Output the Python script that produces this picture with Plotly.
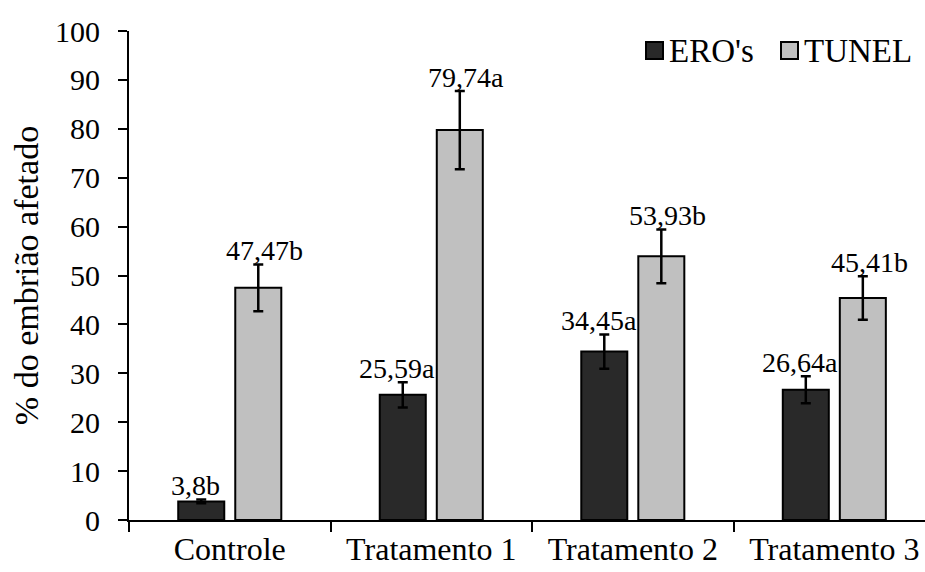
import plotly.graph_objects as go

# Grupos experimentais e séries
categorias = ["Controle", "Tratamento 1", "Tratamento 2", "Tratamento 3"]
series = ["ERO's", "TUNEL"]

ero_valores = [3.8, 25.59, 34.45, 26.64]
ero_erros = [0.4, 2.6, 3.5, 2.75]
ero_letras = ["b", "a", "a", "a"]

tunel_valores = [47.47, 79.74, 53.93, 45.41]
tunel_erros = [4.8, 8.0, 5.5, 4.45]
tunel_letras = ["b", "a", "b", "b"]

cores = ["#292929", "#c0c0c0"]

FONTE = "Liberation Serif"

# Área de plotagem em pixels (para a legenda desenhada à mão)
W, H = 925, 572
ML, MR, MT, MB = 129, 0, 31, 52


def px_x(p):
    return (p - ML) / (W - ML - MR)


def px_y(p):
    return (H - MB - p) / (H - MT - MB)


def rotulo(v, letra):
    return f"{v:g}".replace(".", ",") + letra


fig = go.Figure()
for nome, vals, errs, cor in [
    (series[0], ero_valores, ero_erros, cores[0]),
    (series[1], tunel_valores, tunel_erros, cores[1]),
]:
    fig.add_trace(go.Bar(
        name=nome,
        x=categorias,
        y=vals,
        showlegend=False,
        marker=dict(color=cor, line=dict(color="black", width=2)),
        error_y=dict(type="data", array=errs, visible=True,
                     color="black", thickness=2.5, width=5),
    ))

# Rótulos de valor com letras de significância, acima das barras de erro
deslocamentos = [-34, 35]
for i, (vals, errs, letras) in enumerate([
    (ero_valores, ero_erros, ero_letras),
    (tunel_valores, tunel_erros, tunel_letras),
]):
    for cat, v, e, l in zip(categorias, vals, errs, letras):
        fig.add_annotation(
            x=cat, y=v + e, text=rotulo(v, l),
            xref="x", yref="y", showarrow=False,
            xanchor="center", yanchor="bottom",
            xshift=deslocamentos[i], yshift=-4,
            font=dict(family=FONTE, size=28, color="black"),
        )

# Legenda: quadrado com contorno seguido do nome da série
legenda_x = [646, 781]
for nome, cor, x0 in zip(series, cores, legenda_x):
    fig.add_shape(
        type="rect", xref="paper", yref="paper",
        x0=px_x(x0), x1=px_x(x0 + 17), y0=px_y(59), y1=px_y(42),
        fillcolor=cor, line=dict(color="black", width=2),
    )
    fig.add_annotation(
        x=px_x(x0 + 21), y=px_y(51), xref="paper", yref="paper",
        text=nome, showarrow=False, xanchor="left", yanchor="middle",
        font=dict(family=FONTE, size=33, color="black"),
    )

fig.update_layout(
    width=W, height=H,
    margin=dict(l=ML, r=MR, t=MT, b=MB, autoexpand=False),
    paper_bgcolor="white", plot_bgcolor="white",
    barmode="group", bargap=0.434, bargroupgap=0.193,
    font=dict(family=FONTE, size=30, color="black"),
    showlegend=False,
)

fig.update_xaxes(
    type="category", range=[-0.5, 3.45], automargin=False,
    tickson="boundaries", ticks="outside", ticklen=10, tickwidth=2,
    tickcolor="black", showline=True, linecolor="black", linewidth=2,
    showgrid=False, zeroline=False, ticklabelstandoff=0,
    tickfont=dict(family=FONTE, size=32, color="black"),
)
fig.update_yaxes(
    range=[0, 100], dtick=10, ticks="outside", ticklen=9, tickwidth=2,
    tickcolor="black", showline=True, linecolor="black", linewidth=2,
    showgrid=False, zeroline=False, ticklabelstandoff=12, automargin=False,
    tickfont=dict(family=FONTE, size=30, color="black"),
    title=dict(text="% do embrião afetado", standoff=6,
               font=dict(family=FONTE, size=34, color="black")),
)

fig.write_html("out.html")
